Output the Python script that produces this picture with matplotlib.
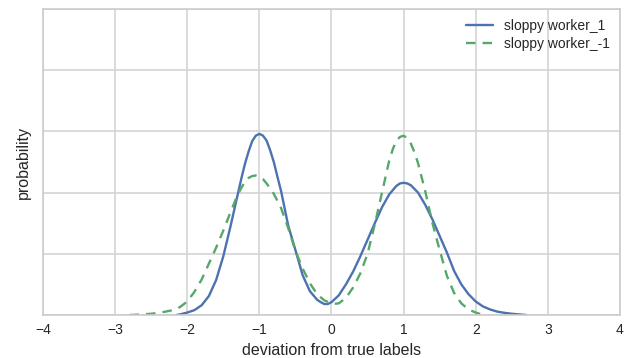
import matplotlib
matplotlib.use("Agg")
import matplotlib.pyplot as plt
import seaborn as sns

# deviation grid and read-off densities (in gridline units)
x_blue = [-2.15, -2.1, -2.0, -1.9, -1.8, -1.7, -1.6, -1.5, -1.4, -1.3, -1.25, -1.2, -1.15, -1.1, -1.05,
          -1.0, -0.95, -0.9, -0.85, -0.8, -0.75, -0.7, -0.6, -0.5, -0.4, -0.3, -0.2, -0.15, -0.1, -0.05, 0.0, 0.1,
          0.2, 0.3, 0.4, 0.5, 0.6, 0.7, 0.8, 0.9, 0.95, 1.0, 1.05, 1.1, 1.2, 1.3, 1.4, 1.5,
          1.6, 1.7, 1.8, 1.9, 2.0, 2.1, 2.2, 2.3, 2.4, 2.5, 2.6, 2.7]
y_blue = [0.0, 0.01, 0.04, 0.08, 0.16, 0.31, 0.57, 0.96, 1.45, 1.97, 2.23, 2.47, 2.67, 2.84, 2.93,
          2.96, 2.93, 2.85, 2.69, 2.50, 2.26, 2.03, 1.46, 1.06, 0.65, 0.39, 0.25, 0.21, 0.18, 0.18, 0.21, 0.32,
          0.50, 0.71, 0.96, 1.23, 1.50, 1.76, 1.97, 2.11, 2.15, 2.16, 2.15, 2.12, 2.00, 1.80, 1.56, 1.29,
          1.02, 0.72, 0.50, 0.34, 0.22, 0.14, 0.09, 0.055, 0.035, 0.02, 0.01, 0.0]

x_green = [-2.8, -2.7, -2.6, -2.5, -2.4, -2.3, -2.2, -2.1, -2.0, -1.9, -1.8, -1.7,
           -1.6, -1.5, -1.4, -1.3, -1.2, -1.15, -1.1, -1.05, -1.0, -0.95, -0.9, -0.8, -0.7, -0.6, -0.5,
           -0.4, -0.3, -0.2, -0.1, 0.0, 0.05, 0.1, 0.2, 0.3, 0.4, 0.5, 0.6, 0.7, 0.8, 0.85, 0.9, 0.95,
           1.0, 1.05, 1.1, 1.15, 1.2, 1.3, 1.4, 1.5, 1.6, 1.7, 1.8, 1.9, 2.0, 2.1]
y_green = [0.0, 0.005, 0.012, 0.02, 0.035, 0.055, 0.08, 0.13, 0.22, 0.38, 0.58, 0.84,
           1.10, 1.38, 1.68, 1.97, 2.18, 2.24, 2.27, 2.28, 2.26, 2.22, 2.15, 1.98, 1.75, 1.42, 1.05,
           0.76, 0.52, 0.34, 0.24, 0.19, 0.185, 0.19, 0.28, 0.45, 0.68, 1.00, 1.48, 2.00, 2.52, 2.71, 2.85, 2.91,
           2.93, 2.89, 2.80, 2.66, 2.48, 2.02, 1.50, 1.06, 0.64, 0.36, 0.19, 0.09, 0.04, 0.0]

labels = ["sloppy worker_1", "sloppy worker_-1"]
x_ticks = [-4, -3, -2, -1, 0, 1, 2, 3, 4]

sns.set_style("whitegrid")
plt.rcParams['font.family'] = ['Liberation Sans', 'DejaVu Sans']
plt.rcParams['axes.edgecolor'] = '#cccccc'
plt.rcParams['grid.color'] = '#d4d4d4'

fig = plt.figure(figsize=(6.27, 3.58), dpi=100)
ax = fig.add_axes([43/627, 1 - 315/358, (620-43)/627, (315-9)/358])

ax.plot(x_blue, y_blue, color='#4C72B0', lw=1.7, label=labels[0])
ax.plot(x_green, y_green, color='#55A868', lw=1.7, dashes=[4, 3], label=labels[1])

ax.set_xlim(-4, 4)
ax.set_ylim(0, 5)
ax.set_xticks(x_ticks)
ax.set_yticks([0, 1, 2, 3, 4, 5])
ax.set_yticklabels([])
ax.tick_params(axis='both', length=0, labelsize=10, colors='#262626', pad=6)
ax.grid(True, lw=1.2)
for s in ax.spines.values():
    s.set_linewidth(1.2)

ax.set_xlabel("deviation from true labels", fontsize=11.5, color='#262626', labelpad=4)
ax.set_ylabel("probability", fontsize=11.5, color='#262626', labelpad=2.5)

leg = ax.legend(loc='upper right', frameon=False, fontsize=10, handlelength=2.0,
                borderaxespad=0.3, labelspacing=0.3)

fig.savefig("out.png", dpi=100)
